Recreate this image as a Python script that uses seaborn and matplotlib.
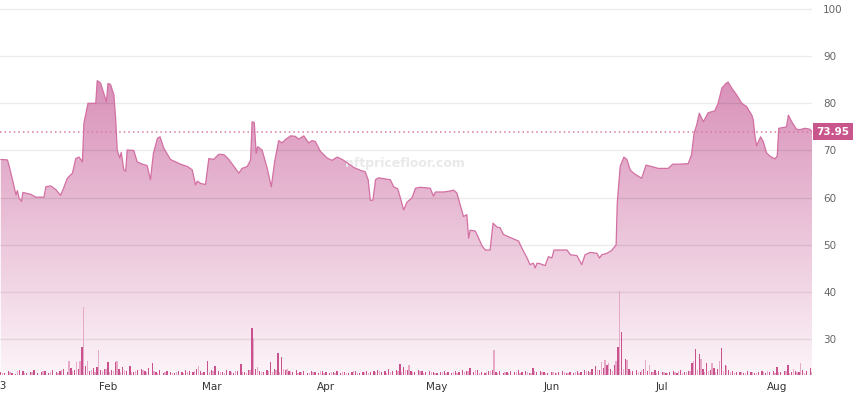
import numpy as np
import pandas as pd
import matplotlib
matplotlib.use('Agg')
import matplotlib.pyplot as plt
import matplotlib.dates as mdates
import matplotlib.transforms as mtransforms
from matplotlib.colors import LinearSegmentedColormap
import seaborn as sns

# --- data ---
START_DATE = '2023-01-03'

# floor price: days since start date, price
price_days = [
    0.0, 1.8, 2.2, 3.2, 4.1, 4.5, 4.9, 5.6, 6.0, 8.1, 9.5, 11.7, 12.2, 13.5, 14.9, 16.2,
    16.9, 18.0, 19.4, 20.3, 21.2, 22.1, 22.5, 23.6, 25.7, 26.1, 27.0, 28.6, 29.0, 29.7,
    30.6, 31.1, 31.5, 32.2, 32.6, 33.3, 33.8, 34.2, 36.0, 36.9, 38.3, 39.6, 40.5, 41.3,
    42.4, 43.1, 44.1, 45.9, 48.6, 50.5, 51.8, 52.7, 53.2, 54.1, 55.4, 56.3, 57.6, 59.0,
    60.4, 61.7, 63.1, 64.4, 65.3, 66.7, 67.6, 68.0, 68.6, 69.1, 69.5, 70.7, 72.1, 73.2,
    74.1, 75.2, 76.1, 77.0, 78.4, 79.7, 80.6, 82.0, 83.3, 84.2, 85.1, 86.5, 88.3, 89.6,
    91.0, 92.4, 93.7, 95.5, 97.3, 98.6, 99.4, 100.0, 100.7, 101.4, 102.2, 105.4, 106.3,
    107.4, 108.1, 109.0, 109.9, 111.3, 112.2, 113.5, 116.2, 117.1, 117.6, 119.8, 121.6,
    122.5, 123.4, 124.3, 125.2, 126.1, 126.6, 127.0, 128.4, 129.3, 130.2, 131.1, 132.4,
    133.2, 134.2, 135.1, 136.0, 137.4, 139.2, 140.1, 141.0, 142.4, 143.2, 144.1, 144.6,
    145.1, 145.9, 147.3, 148.2, 149.1, 149.7, 153.2, 154.1, 155.9, 157.2, 158.1, 159.5,
    161.3, 162.0, 162.6, 164.0, 165.3, 166.5, 166.8, 167.6, 168.6, 169.4, 170.3, 171.2,
    172.2, 173.4, 174.6, 176.1, 177.9, 180.6, 181.8, 183.3, 186.0, 186.9, 187.6, 188.3,
    189.0, 190.1, 191.4, 193.2, 194.1, 195.1, 196.2, 196.8, 197.8, 199.1, 200.5, 201.8,
    203.2, 203.6, 204.1, 204.5, 205.6, 206.3, 207.2, 208.1, 209.5, 210.1, 210.5, 212.6,
    213.1, 214.0, 215.3, 216.2, 217.6, 218.9, 219.5,
]
floor_price = [
    68.1, 68.0, 66.9, 63.7, 60.6, 61.5, 60.0, 59.2, 61.1, 60.7, 60.1, 60.1, 62.3, 62.5, 61.7, 60.5,
    61.8, 64.1, 65.2, 68.3, 68.6, 67.6, 75.8, 80.0, 80.0, 84.8, 84.3, 80.3, 84.2, 84.0,
    81.8, 76.5, 70.1, 68.4, 69.6, 65.9, 65.6, 70.1, 70.0, 67.6, 67.1, 66.8, 63.8, 69.4,
    72.6, 72.9, 70.5, 68.1, 67.1, 66.6, 65.9, 62.7, 63.5, 63.0, 62.8, 68.3, 68.1, 69.2,
    69.1, 68.1, 66.6, 65.2, 66.2, 66.6, 68.0, 76.1, 75.9, 69.4, 70.8, 70.1, 66.2, 62.3,
    67.6, 72.1, 71.6, 72.3, 73.1, 73.0, 72.4, 73.1, 71.6, 72.1, 71.9, 69.8, 68.4, 67.9,
    68.6, 68.1, 67.4, 66.4, 65.8, 65.5, 63.8, 59.4, 59.5, 63.8, 64.2, 63.8, 62.3,
    61.9, 60.0, 57.4, 59.0, 60.0, 62.0, 62.2, 62.0, 60.3, 61.2, 61.2, 61.4,
    61.6, 61.0, 58.5, 56.0, 56.4, 51.4, 53.1, 52.9, 51.4, 49.8, 48.9, 48.9,
    54.6, 53.8, 53.6, 52.2, 51.7, 51.1, 50.8, 49.3, 47.2, 45.8, 46.1, 45.1,
    46.1, 46.0, 45.6, 47.5, 47.2, 48.9, 48.9, 47.9, 47.7, 45.8, 47.9, 48.4,
    48.2, 47.2, 47.9, 48.2, 48.8, 50.0, 58.8, 66.6, 68.6, 68.1, 65.9, 65.2,
    64.7, 64.1, 66.9, 66.6, 66.2, 66.2, 67.1, 67.1, 67.2, 69.1, 73.7, 75.4,
    77.9, 76.1, 78.0, 78.4, 80.0, 83.2, 84.2, 84.5, 83.2, 81.8, 80.0, 79.3,
    77.5, 76.5, 72.9, 71.0, 72.9, 71.9, 69.5, 68.8, 68.2, 68.9, 74.7, 75.0,
    77.5, 76.1, 74.5, 74.4, 74.7, 74.5, 73.95,
]

# daily volume, one value per day from the start date
volume_dark = [
    3, 2, 4, 2, 1, 5, 4, 2, 3, 5,
    2, 3, 4, 2, 5, 3, 4, 6, 3, 7,
    5, 6, 28, 9, 4, 7, 8, 5, 6, 13,
    5, 13, 6, 8, 4, 9, 3, 5, 6, 4,
    7, 12, 3, 5, 2, 4, 3, 2, 4, 3,
    5, 4, 3, 6, 4, 3, 14, 5, 9, 4,
    3, 5, 4, 2, 4, 11, 3, 5, 47, 6,
    4, 3, 5, 13, 6, 22, 18, 5, 4, 3,
    5, 3, 4, 2, 4, 3, 2, 4, 3, 2,
    3, 4, 2, 3, 2, 3, 4, 2, 3, 4,
    3, 4, 5, 3, 4, 6, 4, 5, 11, 8,
    5, 4, 3, 5, 4, 3, 4, 3, 2, 3,
    4, 3, 2, 4, 3, 5, 4, 7, 3, 5,
    3, 2, 4, 5, 3, 4, 2, 3, 4, 3,
    5, 3, 4, 2, 7, 3, 4, 3, 2, 3,
    2, 3, 4, 2, 3, 2, 4, 3, 5, 4,
    6, 9, 5, 7, 10, 6, 10, 28, 43, 16,
    6, 4, 5, 3, 6, 4, 3, 5, 4, 3,
    2, 3, 4, 2, 5, 3, 4, 12, 26, 21,
    6, 12, 5, 7, 6, 27, 10, 5, 4, 3,
    3, 2, 4, 3, 2, 3, 4, 2, 3, 4,
    8, 3, 4, 10, 3, 4, 3, 5, 4, 7,
]
volume_light = [
    2, 0, 3, 0, 4, 0, 2, 0, 3, 0,
    0, 4, 0, 3, 0, 2, 5, 0, 14, 4,
    13, 14, 68, 14, 5, 3, 25, 4, 6, 3,
    4, 14, 3, 5, 0, 3, 4, 0, 5, 3,
    0, 4, 2, 0, 3, 0, 2, 3, 0, 2,
    3, 0, 4, 9, 2, 0, 3, 4, 0, 3,
    2, 0, 3, 4, 0, 3, 2, 5, 37, 8,
    3, 0, 4, 3, 5, 3, 6, 6, 4, 0,
    2, 3, 0, 2, 3, 0, 4, 2, 0, 3,
    2, 0, 3, 2, 0, 4, 2, 0, 3, 2,
    0, 3, 4, 0, 2, 3, 0, 4, 3, 5,
    10, 3, 0, 4, 2, 0, 3, 2, 0, 3,
    2, 0, 3, 2, 0, 3, 4, 0, 5, 2,
    0, 3, 4, 25, 2, 0, 3, 2, 0, 3,
    2, 0, 3, 2, 4, 0, 3, 2, 0, 3,
    2, 0, 3, 2, 0, 3, 2, 0, 4, 3,
    0, 5, 13, 15, 12, 4, 14, 84, 6, 15,
    4, 0, 3, 5, 15, 10, 3, 2, 0, 3,
    2, 0, 3, 4, 2, 3, 4, 14, 5, 16,
    3, 4, 12, 3, 14, 4, 9, 3, 2, 0,
    3, 2, 0, 3, 2, 0, 3, 4, 0, 2,
    3, 0, 4, 2, 6, 3, 12, 2, 0, 3,
]

y_ticks = [30, 40, 50, 60, 70, 80, 90, 100]
month_ticks = ['2023-02-01', '2023-03-01', '2023-04-01', '2023-05-01',
               '2023-06-01', '2023-07-01', '2023-08-01']
month_labels = ['Feb', 'Mar', 'Apr', 'May', 'Jun', 'Jul', 'Aug']
watermark = 'nftpricefloor.com'

# --- build series ---
start = pd.Timestamp(START_DATE)
dates = start + pd.to_timedelta(price_days, unit='D')
df = pd.DataFrame({'date': dates, 'price': floor_price})
vol_dates = pd.date_range(start, periods=len(volume_dark), freq='D')
last_price = floor_price[-1]

LINE_C = '#d36fa2'
DARK_C = '#c9528c'
LIGHT_C = '#e6a9c8'

sns.set_theme(style='white')
plt.rcParams['font.family'] = ['DejaVu Sans']

fig = plt.figure(figsize=(8.61, 3.96), dpi=100)
rect = [0.0, 0.053, 0.9431, 0.947]
ax = fig.add_axes(rect)

y_low, y_high = 22.4, 101.9
x_left = start - pd.Timedelta(hours=5)
x_right = start + pd.Timedelta(days=219.5)

# gradient fill under the line
fill = ax.fill_between(df['date'], df['price'], y_low, color='none', lw=0)
cmap = LinearSegmentedColormap.from_list('pinkfade', ['#fcf4f8', '#cf76a8'])
grad = np.linspace(0, 1, 256).reshape(-1, 1)
x0, x1 = mdates.date2num(x_left), mdates.date2num(x_right)
im = ax.imshow(grad, extent=[x0, x1, y_low, y_high], origin='lower',
               aspect='auto', cmap=cmap, zorder=1)
im.set_clip_path(fill.get_paths()[0], ax.transData)

sns.lineplot(data=df, x='date', y='price', ax=ax, color=LINE_C, lw=0.9, zorder=3)

ax.axhline(last_price, color='#d97aa8', ls=(0, (1, 2)), lw=1.1, zorder=3)

ax.set_xlim(x_left, x_right)
ax.set_ylim(y_low, y_high)

# grid + ticks
ax.set_yticks(y_ticks)
ax.yaxis.tick_right()
ax.grid(axis='y', color='black', alpha=0.08, lw=1)
ax.grid(axis='x', visible=False)
ax.set_axisbelow(False)
ax.tick_params(axis='y', length=0, pad=8, labelsize=7.5, labelcolor='#666666')
ax.set_xticks(pd.to_datetime(month_ticks))
ax.set_xticklabels(month_labels)
ax.tick_params(axis='x', length=0, pad=5, labelsize=7.5, labelcolor='#333333')
ax.set_xlabel('')
ax.set_ylabel('')
for s in ax.spines.values():
    s.set_visible(False)

# year label at Jan 1 (sits just off the left edge, as in the reference)
blend = mtransforms.blended_transform_factory(ax.transData, ax.transAxes)
ax.text(mdates.date2num(pd.Timestamp('2023-01-01')), -0.017, '2023', transform=blend,
        ha='center', va='top', fontsize=7.5, color='#333333', clip_on=False)

# watermark
ax.text(0.499, 0.565, watermark, transform=ax.transAxes, ha='center', va='center',
        fontsize=9, fontweight='bold', color='#e9e9e9', zorder=2.5)

# current price label
ax.annotate(f'{last_price:.2f}', xy=(1.0, last_price), xycoords=('axes fraction', 'data'),
            xytext=(3, 0), textcoords='offset points', ha='left', va='center',
            fontsize=7.5, fontweight='bold', color='white',
            bbox=dict(boxstyle='square,pad=0.35', fc='#c9558d', ec='none'),
            annotation_clip=False)

# volume bars on an overlaid axis
vax = fig.add_axes(rect, sharex=ax)
vax.patch.set_visible(False)
vax.bar(vol_dates + pd.Timedelta(hours=11), volume_light, width=0.35, color=LIGHT_C, lw=0)
vax.bar(vol_dates, volume_dark, width=0.35, color=DARK_C, lw=0)
vax.set_ylim(0, 375)
vax.set_xlim(x_left, x_right)
vax.axis('off')

fig.savefig('out.png', dpi=100)
